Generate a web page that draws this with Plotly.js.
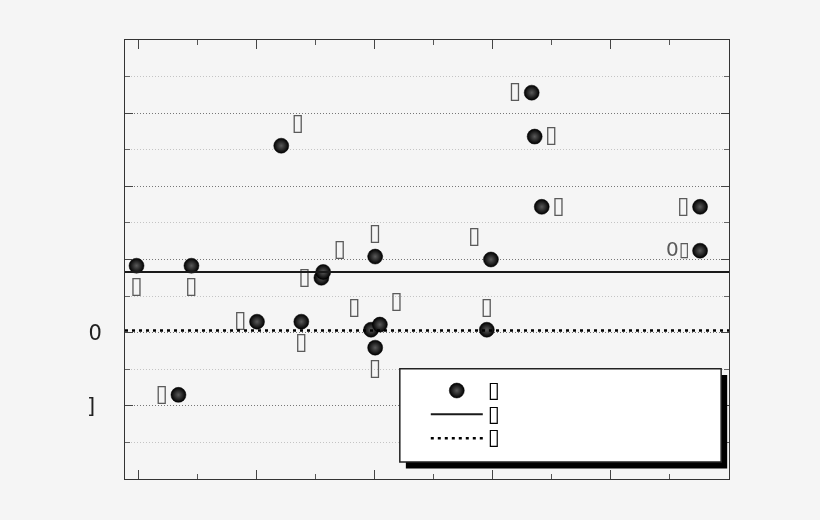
<!DOCTYPE html>
<html>
<head>
<meta charset="utf-8">
<script src="https://cdn.plot.ly/plotly-3.0.1.min.js"></script>
<style>
  html, body { margin: 0; padding: 0; background: #f5f5f5; }
  #chart { width: 820px; height: 520px; }
  #chart .main-svg { will-change: transform; }
</style>
</head>
<body>
<div id="chart"></div>
<script>
    // values
    var pointX = [0.97, 1.90, 1.68, 3.01, 3.42, 3.76, 4.10, 4.13, 5.01, 4.94, 5.09, 5.01, 6.90, 6.97, 7.66, 7.71, 7.83, 10.51, 10.51];
    var pointY = [0.915, 0.915, -0.85, 0.15, 2.555, 0.15, 0.75, 0.83, 1.04, 0.04, 0.11, -0.205, 0.04, 1.0, 3.28, 2.68, 1.72, 1.72, 1.12];
    var pointLabels = ['▯', '▯', '▯', '▯', '▯', '▯', '▯', '▯', '▯', '▯', '▯', '▯', '▯', '▯', '▯', '▯', '▯', '▯', '0▯'];
    var seriesNames = ['▯', '▯', '▯'];
    var meanLevel = 0.83;
    var refLevel = 0.03;
    var yTickVals = [-2, -1, 0, 1, 2, 3, 4];
    var yTickText = ['', ']\u00a0', '0', '', '', '', ''];

    var xRange = [0.775, 11];
    var yRange = [-2, 4];

    // where each label sits next to its point
    var labelPos = ['bottom center', 'bottom center', 'middle left', 'middle left', 'top right',
        'bottom center', 'middle left', 'top right', 'top center', 'top left', 'top right',
        'bottom center', 'top center', 'top left', 'middle left', 'middle right', 'middle right',
        'middle left', 'middle left'];
    var labelSize = pointLabels.map(function (t) { return t.length > 1 ? 20 : 23; });

    var fontFam = 'DejaVu Sans, Liberation Sans, sans-serif';
    var box = function (s) { return '<span style="font-size:22px">' + s + '</span>'; };

    var points = {
        x: pointX,
        y: pointY,
        type: 'scatter',
        mode: 'markers+text',
        name: box(seriesNames[0]),
        text: pointLabels,
        textposition: labelPos,
        textfont: { family: fontFam, size: labelSize, color: '#5a5a5a' },
        marker: {
            size: 15,
            color: '#000',
            gradient: { type: 'radial', color: '#5a5a5a' },
            line: { width: 0.5, color: '#000' }
        },
        cliponaxis: false
    };

    var meanLine = {
        x: xRange,
        y: [meanLevel, meanLevel],
        type: 'scatter',
        mode: 'lines',
        name: box(seriesNames[1]),
        line: { color: '#1a1a1a', width: 2 }
    };

    var refLine = {
        x: xRange,
        y: [refLevel, refLevel],
        type: 'scatter',
        mode: 'lines',
        name: box(seriesNames[2]),
        line: { color: '#000', width: 2.5, dash: '3px,4px' }
    };

    var layout = {
        width: 820,
        height: 520,
        margin: { l: 125, r: 91, t: 40, b: 41 },
        paper_bgcolor: '#f5f5f5',
        plot_bgcolor: '#f5f5f5',
        font: { family: fontFam, size: 18, color: '#222' },
        showlegend: true,
        legend: {
            x: 0.498, y: 0.24, xanchor: 'left', yanchor: 'top',
            bgcolor: 'rgba(0,0,0,0)',
            borderwidth: 0,
            itemwidth: 52,
            font: { family: fontFam, size: 16, color: '#000' },
            tracegroupgap: 0
        },
        xaxis: {
            range: xRange,
            showgrid: false,
            zeroline: false,
            showline: true,
            linecolor: '#333',
            linewidth: 1,
            mirror: 'ticks',
            ticks: 'inside',
            ticklen: 9,
            tickcolor: '#444',
            tickmode: 'linear',
            tick0: 1,
            dtick: 2,
            showticklabels: false,
            minor: { tickmode: 'linear', tick0: 0, dtick: 1, ticks: 'inside', ticklen: 5, tickcolor: '#555' }
        },
        yaxis: {
            range: yRange,
            zeroline: false,
            showline: true,
            linecolor: '#333',
            linewidth: 1,
            mirror: 'ticks',
            ticks: 'inside',
            ticklen: 8,
            tickcolor: '#444',
            tickmode: 'array',
            tickvals: yTickVals,
            ticktext: yTickText,
            ticklabelstandoff: 18,
            tickfont: { family: fontFam, size: 21, color: '#222' },
            showgrid: true,
            gridcolor: '#777',
            griddash: '1px,2px',
            gridwidth: 1,
            minor: {
                tickmode: 'linear', tick0: 0, dtick: 0.5, ticks: 'inside', ticklen: 5, tickcolor: '#666',
                showgrid: true, gridcolor: '#c4c4c4', griddash: '1px,2px', gridwidth: 1
            }
        },
        shapes: [
            // legend drop shadow and box
            { type: 'rect', xref: 'paper', yref: 'paper', x0: 0.465, x1: 0.997, y0: 0.024, y1: 0.237,
              fillcolor: '#000', line: { width: 0 }, layer: 'above' },
            { type: 'rect', xref: 'paper', yref: 'paper', x0: 0.455, x1: 0.987, y0: 0.039, y1: 0.251,
              fillcolor: '#fff', line: { width: 1.5, color: '#222' }, layer: 'above' }
        ]
    };

    Plotly.newPlot('chart', [points, meanLine, refLine], layout, { displayModeBar: false, staticPlot: true });
</script>
</body>
</html>
